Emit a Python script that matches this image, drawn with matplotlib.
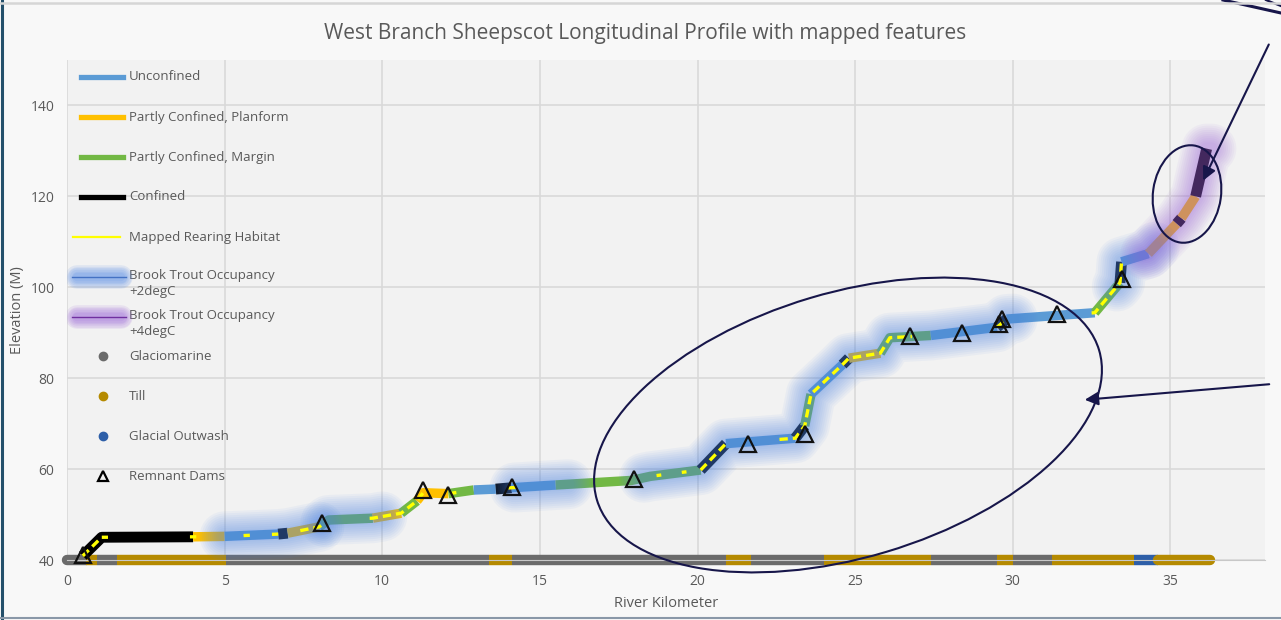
import numpy as np
import matplotlib.pyplot as plt
from matplotlib.lines import Line2D
from matplotlib.patches import Ellipse, FancyArrowPatch
from matplotlib.transforms import IdentityTransform

plt.rcParams['font.family'] = ['Open Sans', 'DejaVu Sans']

# longitudinal profile: river km / elevation (m), class of each reach between vertices
prof_km = [0.5, 1.1, 4.0, 5.0, 6.7, 7.0, 8.0, 8.3, 9.7, 10.6, 11.1, 11.3, 12.1, 12.9,
           13.6, 14.1, 15.5, 17.9, 18.5, 20.1, 20.9, 23.1, 23.4, 23.6, 24.6, 24.8,
           25.8, 26.1, 27.4, 29.5, 29.8, 31.4, 32.6, 33.4, 33.45, 34.3, 35.2, 35.35,
           35.8, 36.15]
prof_elev = [40.9, 45.0, 45.1, 45.2, 45.7, 45.9, 47.3, 48.8, 49.2, 50.3, 53.0, 54.8,
             54.6, 55.4, 55.6, 55.9, 56.5, 57.5, 58.4, 59.8, 65.6, 66.8, 69.5, 76.5,
             83.0, 84.4, 85.5, 88.9, 89.4, 91.2, 93.0, 93.8, 94.4, 101.0, 105.6, 107.4,
             114.0, 115.2, 120.0, 130.5]
reach_class = ['C', 'C', 'P', 'U', 'C', 'P', 'M', 'M', 'P', 'M', 'P', 'P', 'M', 'U',
               'C', 'U', 'M', 'M', 'M', 'C', 'U', 'C', 'M', 'U', 'C', 'P', 'M', 'M',
               'U', 'C', 'U', 'U', 'M', 'C', 'U', 'P', 'C', 'P', 'C']

# mapped rearing habitat (km ranges)
rear_start = [0.5, 3.9, 5.6, 6.5, 7.4, 9.6, 12.2, 14.0, 18.7, 19.5, 20.1, 22.6, 29.5, 32.5]
rear_end = [1.3, 4.1, 5.8, 6.7, 8.1, 11.3, 12.35, 14.4, 18.85, 19.65, 21.0, 26.8, 29.8, 33.5]

# brook trout occupancy reaches (km ranges)
occ2_start = [5.0, 8.2, 14.2, 18.3, 33.3]
occ2_end = [8.0, 10.0, 15.9, 30.0, 34.5]
occ4_start = [34.2]
occ4_end = [36.3]

# remnant dams
dam_km = [0.5, 8.1, 11.3, 12.1, 14.1, 18.0, 21.6, 23.4, 26.75, 28.4, 29.55, 29.65, 31.4, 33.45]
dam_elev = [41.0, 48.2, 55.3, 54.4, 56.1, 57.9, 65.6, 67.8, 89.2, 89.9, 92.0, 93.0, 94.1, 101.8]

# surficial geology along the channel
geo_start = [0.0, 0.6, 0.95, 1.6, 5.05, 13.4, 14.1, 20.9, 21.7, 24.0, 27.4, 29.5, 30.0,
             31.25, 33.85, 34.6]
geo_end = [0.6, 0.95, 1.6, 5.05, 13.4, 14.1, 20.9, 21.7, 24.0, 27.4, 29.5, 30.0, 31.25,
           33.85, 34.6, 36.25]
geo_type = ['G', 'T', 'G', 'T', 'G', 'T', 'G', 'T', 'G', 'T', 'G', 'T', 'G', 'T', 'O', 'T']

class_color = {'U': '#5b9bd5', 'P': '#ffc000', 'M': '#72b844', 'C': '#000000'}
geo_color = {'G': '#6b6b6b', 'T': '#b58a00', 'O': '#2e5fa8'}
grey = '#595959'
navy = '#17164a'

fig = plt.figure(figsize=(12.81, 6.2), dpi=100, facecolor='#f8f8f8')
ax = fig.add_axes([67 / 1281, 60 / 620, 1198 / 1281, 500 / 620], facecolor='#f2f2f2')

km = np.array(prof_km)
el = np.array(prof_elev)


def along(a, b):
    inside = (km > a) & (km < b)
    xs = np.r_[a, km[inside], b]
    return xs, np.interp(xs, km, el)


# confinement classes, consecutive reaches of one class drawn as one line
i = 0
while i < len(reach_class):
    j = i
    while j + 1 < len(reach_class) and reach_class[j + 1] == reach_class[i]:
        j += 1
    c = reach_class[i]
    ax.plot(km[i:j + 2], el[i:j + 2], color=class_color[c], lw=7.8 if c == 'C' else 6.8,
            solid_capstyle='butt', solid_joinstyle='round', zorder=3)
    i = j + 1

# occupancy halos, stacked soft strokes
for starts, ends, col in [(occ2_start, occ2_end, '#4f86e6'), (occ4_start, occ4_end, '#9a62d8')]:
    for a, b in zip(starts, ends):
        xs, ys = along(a, b)
        for w in np.linspace(36, 9, 10):
            ax.plot(xs, ys, color=col, lw=w, alpha=0.06, solid_capstyle='round',
                    solid_joinstyle='round', zorder=4)

# rearing habitat
for a, b in zip(rear_start, rear_end):
    xs, ys = along(a, b)
    ax.plot(xs, ys, color='#ffff00', lw=2.4, dashes=(2.5, 1.5), zorder=5)

# geology strip along the base of the chart
for a, b, g in zip(geo_start, geo_end, geo_type):
    cap = 'round' if (a == geo_start[0] or b == geo_end[-1]) else 'butt'
    ax.plot([a, b], [40, 40], color=geo_color[g], lw=7.5, solid_capstyle=cap,
            clip_on=False, zorder=2.5)

ax.plot(dam_km, dam_elev, ls='none', marker='^', ms=11, mfc='none', mec='#111111',
        mew=1.6, zorder=6, clip_on=False)

ax.set_xlim(0, 38)
ax.set_ylim(40, 150)
ax.set_xticks(range(0, 36, 5))
ax.set_yticks(range(40, 141, 20))
ax.grid(color='#d9d9d9', lw=1.2)
ax.set_axisbelow(True)
for s in ['top', 'right', 'left']:
    ax.spines[s].set_visible(False)
ax.spines['bottom'].set_color('#c8c8c8')
ax.tick_params(length=0, labelsize=10, labelcolor=grey)
ax.tick_params(axis='y', pad=9)
ax.tick_params(axis='x', pad=10)
ax.set_xlabel('River Kilometer', fontsize=10.5, color=grey, labelpad=5)
ax.set_ylabel('Elevation (M)', fontsize=10.5, color=grey, labelpad=4)

fig.text(645 / 1281, 1 - 33 / 620, 'West Branch Sheepscot Longitudinal Profile with mapped features',
         ha='center', va='center', fontsize=15, color=grey)


# legend drawn in axes fraction
def lx(px):
    return (px - 67) / 1198


def ly(py):
    return (560 - py) / 500


legend_fs = 9.5
legend_lines = [('Unconfined', '#5b9bd5', 77), ('Partly Confined, Planform', '#ffc000', 117),
                ('Partly Confined, Margin', '#72b844', 157), ('Confined', '#000000', 197)]
for lab, col, py in legend_lines:
    ax.add_line(Line2D([lx(81), lx(123)], [ly(py), ly(py)], color=col, lw=3.8,
                       transform=ax.transAxes, zorder=8))
    ax.text(lx(129), ly(py), lab, transform=ax.transAxes, va='center', fontsize=legend_fs,
            color=grey)

ax.add_line(Line2D([lx(73), lx(120)], [ly(237), ly(237)], color='#ffff00', lw=1.6,
                   transform=ax.transAxes, zorder=8))
ax.text(lx(129), ly(237), 'Mapped Rearing Habitat', transform=ax.transAxes, va='center',
        fontsize=legend_fs, color=grey)

for lab, col, core, py in [('Brook Trout Occupancy\n+2degC', '#4f86e6', '#4472c4', 277),
                           ('Brook Trout Occupancy\n+4degC', '#9a62d8', '#7030a0', 317)]:
    for w in np.linspace(17, 6, 6):
        ax.add_line(Line2D([lx(77), lx(121)], [ly(py), ly(py)], color=col, lw=w, alpha=0.12,
                           solid_capstyle='round', transform=ax.transAxes, zorder=8))
    ax.add_line(Line2D([lx(72), lx(126)], [ly(py), ly(py)], color=core, lw=1.0,
                       transform=ax.transAxes, zorder=8))
    ax.text(lx(129), ly(py) + 0.016, lab, transform=ax.transAxes, va='top', fontsize=legend_fs,
            color=grey, linespacing=1.3)

for lab, col, py in [('Glaciomarine', '#6b6b6b', 356), ('Till', '#b58a00', 396),
                     ('Glacial Outwash', '#2e5fa8', 436)]:
    ax.plot([lx(103)], [ly(py)], marker='o', ms=6, color=col, transform=ax.transAxes, zorder=8)
    ax.text(lx(129), ly(py), lab, transform=ax.transAxes, va='center', fontsize=legend_fs,
            color=grey)

ax.plot([lx(103)], [ly(476)], marker='^', ms=7, mfc='none', mec='black', mew=1.6,
        transform=ax.transAxes, zorder=8)
ax.text(lx(129), ly(476), 'Remnant Dams', transform=ax.transAxes, va='center',
        fontsize=legend_fs, color=grey)

# callout ellipses and arrows (pixel coordinates)
pix = IdentityTransform()
fig.add_artist(Ellipse((848, 195), 524, 265, angle=16.6, fill=False, ec=navy, lw=1.5,
                       transform=pix))
fig.add_artist(Ellipse((1187, 426), 68, 98, angle=-8, fill=False, ec=navy, lw=1.5,
                       transform=pix))
fig.add_artist(FancyArrowPatch((1270, 578), (1202, 437), arrowstyle='-|>', mutation_scale=20,
                               color=navy, lw=1.5, transform=pix))
fig.add_artist(FancyArrowPatch((1272, 236), (1082, 220), arrowstyle='-|>', mutation_scale=20,
                               color=navy, lw=1.5, transform=pix))
fig.add_artist(Line2D([1223, 1281], [620, 607], color=navy, lw=2.2, transform=pix))
fig.add_artist(Line2D([1266, 1281], [620, 614], color=navy, lw=1.6, transform=pix))

# slide frame edges
fig.add_artist(Line2D([1.5, 1.5], [0, 620], color='#24506b', lw=2.2, transform=pix))
fig.add_artist(Line2D([0, 1281], [617, 617], color='#d6d6d6', lw=1.8, transform=pix))
fig.add_artist(Line2D([0, 1281], [2, 2], color='#8a98a8', lw=1.5, transform=pix))

fig.savefig('out.png', dpi=100, facecolor=fig.get_facecolor())
